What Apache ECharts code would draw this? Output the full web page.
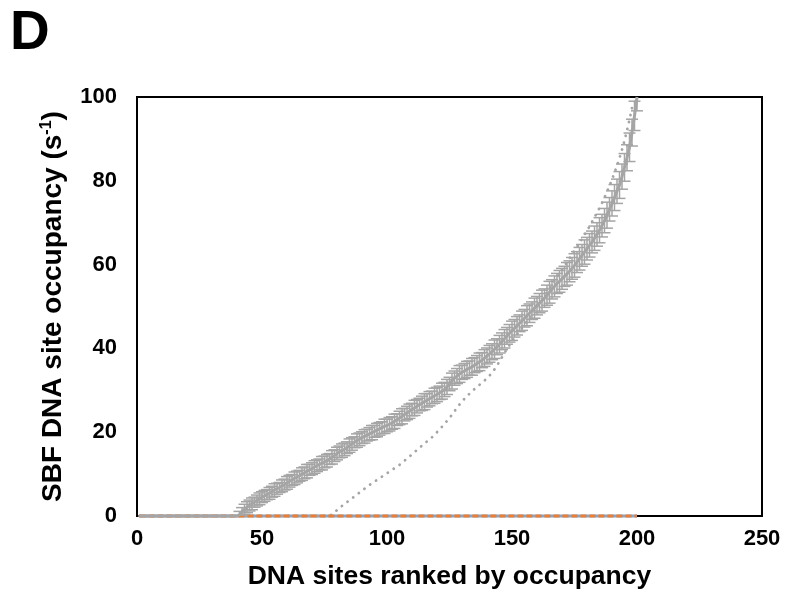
<!DOCTYPE html>
<html>
<head>
<meta charset="utf-8">
<script src="https://cdn.jsdelivr.net/npm/echarts@6/dist/echarts.min.js"></script>
<style>
  html, body { margin: 0; padding: 0; background: #fff; }
  #chart { width: 785px; height: 592px; }
</style>
</head>
<body>
<div id="chart"></div>
<script>
// Axis ticks
const xTicks = [0, 50, 100, 150, 200, 250];
const yTicks = [0, 20, 40, 60, 80, 100];

// Mean occupancy per ranked DNA site (rank 1..200)
const meanOccupancy = [
  0, 0, 0, 0, 0, 0, 0, 0, 0, 0,
  0, 0, 0, 0, 0, 0, 0, 0, 0, 0,
  0, 0, 0, 0, 0, 0, 0, 0, 0, 0,
  0, 0, 0, 0, 0, 0, 0, 0, 0, 0,
  0.3, 1.0, 1.6, 2.1, 2.5, 2.9, 3.3, 3.7, 4.1, 4.5,
  4.8, 5.1, 5.4, 5.8, 6.2, 6.5, 6.8, 7.2, 7.5, 7.9,
  8.3, 8.6, 9.0, 9.3, 9.6, 10.0, 10.3, 10.7, 11.0, 11.3,
  11.7, 12.0, 12.3, 12.6, 12.9, 13.2, 13.6, 14.0, 14.4, 14.9,
  15.3, 15.6, 15.9, 16.3, 16.8, 17.2, 17.6, 18.0, 18.3, 18.7,
  19.0, 19.3, 19.6, 19.9, 20.2, 20.5, 20.8, 21.1, 21.4, 21.6,
  21.9, 22.2, 22.6, 23.0, 23.4, 23.8, 24.2, 24.6, 25.0, 25.4,
  25.8, 26.2, 26.6, 26.9, 27.3, 27.6, 28.0, 28.3, 28.7, 29.0,
  29.4, 29.8, 30.2, 30.8, 31.5, 32.2, 32.9, 33.4, 33.9, 34.3,
  34.6, 35.0, 35.3, 35.6, 36.0, 36.4, 36.8, 37.2, 37.7, 38.2,
  38.7, 39.2, 39.8, 40.4, 41.0, 41.7, 42.3, 43.0, 43.6, 44.2,
  44.8, 45.4, 46.0, 46.6, 47.2, 47.8, 48.4, 49.0, 49.6, 50.2,
  50.8, 51.4, 52.0, 52.7, 53.4, 54.1, 54.8, 55.5, 56.0, 56.6,
  57.2, 57.8, 58.4, 59.1, 59.8, 60.6, 61.4, 62.2, 63.0, 63.8,
  64.6, 65.4, 66.3, 67.2, 68.2, 69.3, 70.5, 71.8, 73.2, 74.6,
  76.0, 77.5, 79.0, 81.0, 83.2, 85.5, 88.0, 91.5, 95.5, 100.0
];

// Error (+/-) per ranked site
const occupancyError = [
  0, 0, 0, 0, 0, 0, 0, 0, 0, 0,
  0, 0, 0, 0, 0, 0, 0, 0, 0, 0,
  0, 0, 0, 0, 0, 0, 0, 0, 0, 0,
  0, 0, 0, 0, 0, 0, 0, 0, 0, 0,
  0.8, 1.0, 1.2, 1.3, 1.3, 1.4, 1.2, 1.3, 1.4, 1.3,
  1.3, 1.2, 1.4, 1.3, 1.5, 1.3, 1.2, 1.4, 1.3, 1.5,
  1.4, 1.3, 1.5, 1.4, 1.3, 1.5, 1.4, 1.6, 1.3, 1.4,
  1.5, 1.4, 1.3, 1.6, 1.4, 1.5, 1.3, 1.6, 1.4, 1.5,
  1.4, 1.6, 1.5, 1.4, 1.6, 1.5, 1.3, 1.6, 1.5, 1.4,
  1.6, 1.4, 1.5, 1.7, 1.4, 1.6, 1.5, 1.4, 1.7, 1.5,
  1.6, 1.5, 1.7, 1.4, 1.6, 1.8, 1.5, 1.6, 1.7, 1.5,
  1.8, 1.6, 1.5, 1.7, 1.9, 1.6, 1.7, 1.5, 1.8, 1.7,
  1.6, 1.9, 1.7, 1.8, 1.6, 1.9, 1.7, 1.8, 2.0, 1.7,
  1.8, 1.9, 1.7, 2.0, 1.8, 1.9, 2.1, 1.8, 2.0, 1.9,
  2.0, 1.9, 2.2, 1.9, 2.1, 2.0, 2.2, 2.0, 2.1, 2.3,
  2.1, 2.2, 2.0, 2.3, 2.1, 2.4, 2.2, 2.1, 2.4, 2.2,
  2.3, 2.5, 2.2, 2.4, 2.6, 2.3, 2.5, 2.4, 2.6, 2.5,
  2.4, 2.7, 2.5, 2.6, 2.8, 2.5, 2.7, 2.6, 2.9, 2.7,
  2.8, 2.6, 2.9, 2.8, 3.0, 2.7, 2.9, 3.1, 2.8, 3.0,
  3.1, 2.9, 3.2, 3.0, 3.3, 3.1, 3.4, 3.2, 3.5, 3.3
];

// Second ranked profile (dotted)
const altOccupancy = [
  0, 0, 0, 0, 0, 0, 0, 0, 0, 0,
  0, 0, 0, 0, 0, 0, 0, 0, 0, 0,
  0, 0, 0, 0, 0, 0, 0, 0, 0, 0,
  0, 0, 0, 0, 0, 0, 0, 0, 0, 0,
  0, 0, 0, 0, 0, 0, 0, 0, 0, 0,
  0, 0, 0, 0, 0, 0, 0, 0, 0, 0,
  0, 0, 0, 0, 0, 0, 0, 0, 0, 0,
  0, 0, 0, 0, 0, 0, 0, 0.4, 0.9, 1.4,
  1.9, 2.4, 2.8, 3.3, 3.8, 4.2, 4.7, 5.1, 5.6, 6.0,
  6.5, 6.9, 7.4, 7.8, 8.2, 8.6, 9.0, 9.4, 9.8, 10.2,
  10.6, 11.0, 11.4, 11.8, 12.2, 12.7, 13.2, 13.7, 14.2, 14.7,
  15.2, 15.8, 16.3, 16.8, 17.3, 17.8, 18.3, 18.8, 19.4, 20.0,
  20.6, 21.3, 22.0, 22.7, 23.4, 24.2, 25.0, 25.8, 26.6, 27.3,
  28.0, 28.6, 29.2, 29.8, 30.3, 30.8, 31.3, 31.8, 32.3, 32.9,
  33.5, 34.2, 35.0, 35.9, 36.9, 37.9, 38.9, 39.9, 40.8, 41.7,
  42.5, 43.3, 44.1, 44.9, 45.7, 46.5, 47.3, 48.1, 48.9, 49.8,
  50.7, 51.6, 52.5, 53.4, 54.3, 55.2, 56.1, 57.0, 57.9, 58.8,
  59.7, 60.6, 61.5, 62.4, 63.3, 64.2, 65.1, 66.1, 67.1, 68.1,
  69.1, 70.2, 71.3, 72.4, 73.5, 74.7, 76.0, 77.4, 78.8, 80.3,
  81.9, 83.6, 85.4, 87.4, 89.6, 92.0, 94.6, 97.4, 98.5, 100.0
];

// Control profiles, zero at every ranked site
const controlBlue = [
  0, 0, 0, 0, 0, 0, 0, 0, 0, 0, 0, 0, 0, 0, 0, 0, 0, 0, 0, 0,
  0, 0, 0, 0, 0, 0, 0, 0, 0, 0, 0, 0, 0, 0, 0, 0, 0, 0, 0, 0,
  0, 0, 0, 0, 0, 0, 0, 0, 0, 0, 0, 0, 0, 0, 0, 0, 0, 0, 0, 0,
  0, 0, 0, 0, 0, 0, 0, 0, 0, 0, 0, 0, 0, 0, 0, 0, 0, 0, 0, 0,
  0, 0, 0, 0, 0, 0, 0, 0, 0, 0, 0, 0, 0, 0, 0, 0, 0, 0, 0, 0,
  0, 0, 0, 0, 0, 0, 0, 0, 0, 0, 0, 0, 0, 0, 0, 0, 0, 0, 0, 0,
  0, 0, 0, 0, 0, 0, 0, 0, 0, 0, 0, 0, 0, 0, 0, 0, 0, 0, 0, 0,
  0, 0, 0, 0, 0, 0, 0, 0, 0, 0, 0, 0, 0, 0, 0, 0, 0, 0, 0, 0,
  0, 0, 0, 0, 0, 0, 0, 0, 0, 0, 0, 0, 0, 0, 0, 0, 0, 0, 0, 0,
  0, 0, 0, 0, 0, 0, 0, 0, 0, 0, 0, 0, 0, 0, 0, 0, 0, 0, 0, 0
];
const controlOrange = [
  0, 0, 0, 0, 0, 0, 0, 0, 0, 0, 0, 0, 0, 0, 0, 0, 0, 0, 0, 0,
  0, 0, 0, 0, 0, 0, 0, 0, 0, 0, 0, 0, 0, 0, 0, 0, 0, 0, 0, 0,
  0, 0, 0, 0, 0, 0, 0, 0, 0, 0, 0, 0, 0, 0, 0, 0, 0, 0, 0, 0,
  0, 0, 0, 0, 0, 0, 0, 0, 0, 0, 0, 0, 0, 0, 0, 0, 0, 0, 0, 0,
  0, 0, 0, 0, 0, 0, 0, 0, 0, 0, 0, 0, 0, 0, 0, 0, 0, 0, 0, 0,
  0, 0, 0, 0, 0, 0, 0, 0, 0, 0, 0, 0, 0, 0, 0, 0, 0, 0, 0, 0,
  0, 0, 0, 0, 0, 0, 0, 0, 0, 0, 0, 0, 0, 0, 0, 0, 0, 0, 0, 0,
  0, 0, 0, 0, 0, 0, 0, 0, 0, 0, 0, 0, 0, 0, 0, 0, 0, 0, 0, 0,
  0, 0, 0, 0, 0, 0, 0, 0, 0, 0, 0, 0, 0, 0, 0, 0, 0, 0, 0, 0,
  0, 0, 0, 0, 0, 0, 0, 0, 0, 0, 0, 0, 0, 0, 0, 0, 0, 0, 0, 0
];

const FONT = '"Liberation Sans", Arial, sans-serif';
const GREY = '#a5a5a5';

// Rank of each site (1-based position in the ranked lists)
const pairs = (vals) => vals.map((v, i) => [i + 1, v]);
const errorData = meanOccupancy.map((v, i) => [i + 1, v, occupancyError[i]]);

const chart = echarts.init(document.getElementById('chart'), null, { renderer: 'canvas' });

chart.setOption({
  animation: false,
  backgroundColor: '#fff',
  title: {
    text: 'D',
    left: 5,
    top: 1,
    textStyle: { fontFamily: FONT, fontWeight: 'bold', fontSize: 55, color: '#000' }
  },
  grid: {
    left: 137, right: 23, top: 97, bottom: 76,
    outerBoundsMode: 'none',
    containLabel: false,
    show: true, borderColor: '#000', borderWidth: 2, backgroundColor: '#fff'
  },
  xAxis: {
    type: 'value',
    min: xTicks[0], max: xTicks[xTicks.length - 1], interval: 50,
    name: 'DNA sites ranked by occupancy',
    nameLocation: 'middle',
    nameGap: 47,
    nameTextStyle: { fontFamily: FONT, fontWeight: 'bold', fontSize: 26.5, color: '#000' },
    axisLine: { show: true, lineStyle: { color: '#000', width: 2 } },
    axisTick: { show: false },
    splitLine: { show: false },
    axisLabel: { fontFamily: FONT, fontWeight: 'bold', fontSize: 22, color: '#000', margin: 12 }
  },
  yAxis: {
    type: 'value',
    min: yTicks[0], max: yTicks[yTicks.length - 1], interval: 20,
    name: 'SBF DNA site occupancy (s{sup|-1})',
    nameLocation: 'middle',
    nameGap: 70,
    nameTextStyle: {
      fontFamily: FONT, fontWeight: 'bold', fontSize: 28, color: '#000',
      rich: { sup: { fontFamily: FONT, fontWeight: 'bold', fontSize: 16, color: '#000', verticalAlign: 'top', padding: [0, 0, 12, 0] } }
    },
    axisLine: { show: true, lineStyle: { color: '#000', width: 2 } },
    axisTick: { show: false },
    splitLine: { show: false },
    axisLabel: { fontFamily: FONT, fontWeight: 'bold', fontSize: 22, color: '#000', margin: 20 }
  },
  series: [
    {
      type: 'line', data: pairs(controlBlue), showSymbol: false, z: 1, clip: false,
      lineStyle: { color: '#7fa7d0', width: 3 }
    },
    {
      type: 'line', data: pairs(altOccupancy), showSymbol: false, z: 2, clip: false,
      lineStyle: { color: GREY, width: 2.8, type: [0.1, 7], cap: 'round' }
    },
    {
      type: 'line', data: pairs(controlOrange), showSymbol: false, z: 3, clip: false,
      lineStyle: { color: '#ed7d31', width: 3, type: [6, 3] }
    },
    {
      type: 'line', data: pairs(meanOccupancy), showSymbol: false, z: 4, clip: false,
      lineStyle: { color: GREY, width: 3 }
    },
    {
      type: 'custom', z: 5, clip: true,
      data: errorData,
      renderItem: function (params, api) {
        const x = api.value(0), m = api.value(1), e = api.value(2);
        if (!e) return null;
        const top = api.coord([x, m + e]);
        const bot = api.coord([x, m - e]);
        const hw = 6;
        const style = { stroke: GREY, lineWidth: 1.5, fill: null };
        return {
          type: 'group',
          children: [
            { type: 'line', shape: { x1: top[0], y1: top[1], x2: bot[0], y2: bot[1] }, style },
            { type: 'line', shape: { x1: top[0] - hw, y1: top[1], x2: top[0] + hw, y2: top[1] }, style },
            { type: 'line', shape: { x1: bot[0] - hw, y1: bot[1], x2: bot[0] + hw, y2: bot[1] }, style }
          ]
        };
      }
    }
  ]
});
</script>
</body>
</html>
